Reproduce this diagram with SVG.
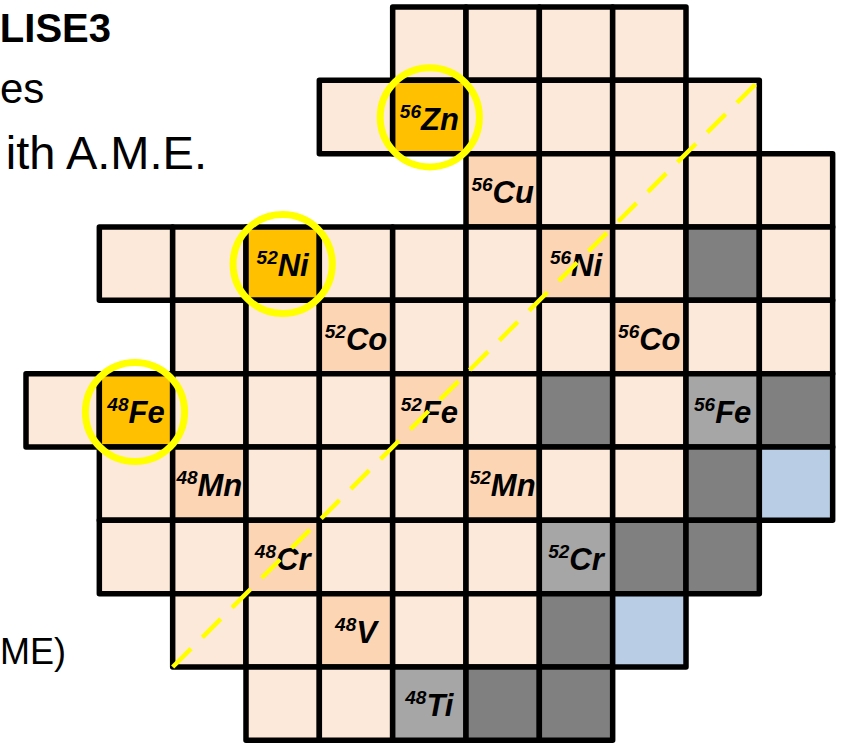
<svg xmlns="http://www.w3.org/2000/svg" width="846" height="744" viewBox="0 0 846 744">
<style>
rect.c{stroke:#000;stroke-width:5.5;stroke-linejoin:round}
.p{fill:#FDE9D9}.m{fill:#FCD5B4}.o{fill:#FFC000}.lg{fill:#A6A6A6}.dg{fill:#808080}.bl{fill:#B9CDE5}
.lb{font-family:"Liberation Sans",Arial,sans-serif;font-weight:bold;font-style:italic;font-size:31px;text-anchor:middle;fill:#000}
.sup{font-size:19px}
.side{font-family:"Liberation Sans",Arial,sans-serif;fill:#000}
.ring{fill:none;stroke:#FFFF00;stroke-width:7}
.nz{fill:none;stroke:#FFFF00;stroke-width:4.5;stroke-dasharray:26 16}
</style>
<rect width="846" height="744" fill="#fff"/>
<g id="side-text">
<text class="side" x="111" y="42" font-size="40" font-weight="bold" text-anchor="end">LISE3</text>
<text class="side" x="0" y="103" font-size="42">es</text>
<text class="side" x="207" y="169" font-size="47" text-anchor="end">ith A.M.E.</text>
<text class="side" x="0" y="664" font-size="36">ME)</text>
</g>
<g id="cells">
<g id="ga57"><rect class="c p" x="392.67" y="7" width="73.33" height="73.33"/></g>
<g id="ga58"><rect class="c p" x="466" y="7" width="73.33" height="73.33"/></g>
<g id="ga59"><rect class="c p" x="539.33" y="7" width="73.33" height="73.33"/></g>
<g id="ga60"><rect class="c p" x="612.67" y="7" width="73.33" height="73.33"/></g>
<g id="zn55"><rect class="c p" x="319.33" y="80.33" width="73.33" height="73.33"/></g>
<g id="zn56"><rect class="c o" x="392.67" y="80.33" width="73.33" height="73.33"/><text class="lb" x="429.33" y="129.5"><tspan class="sup" dy="-12">56</tspan><tspan dy="12">Zn</tspan></text></g>
<g id="zn57"><rect class="c p" x="466" y="80.33" width="73.33" height="73.33"/></g>
<g id="zn58"><rect class="c p" x="539.33" y="80.33" width="73.33" height="73.33"/></g>
<g id="zn59"><rect class="c p" x="612.67" y="80.33" width="73.33" height="73.33"/></g>
<g id="zn60"><rect class="c p" x="686" y="80.33" width="73.33" height="73.33"/></g>
<g id="cu56"><rect class="c m" x="466" y="153.67" width="73.33" height="73.33"/><text class="lb" x="502.67" y="202.8"><tspan class="sup" dy="-12">56</tspan><tspan dy="12">Cu</tspan></text></g>
<g id="cu57"><rect class="c p" x="539.33" y="153.67" width="73.33" height="73.33"/></g>
<g id="cu58"><rect class="c p" x="612.67" y="153.67" width="73.33" height="73.33"/></g>
<g id="cu59"><rect class="c p" x="686" y="153.67" width="73.33" height="73.33"/></g>
<g id="cu60"><rect class="c p" x="759.33" y="153.67" width="73.33" height="73.33"/></g>
<g id="ni50"><rect class="c p" x="99.33" y="227" width="73.33" height="73.33"/></g>
<g id="ni51"><rect class="c p" x="172.67" y="227" width="73.33" height="73.33"/></g>
<g id="ni52"><rect class="c o" x="246" y="227" width="73.33" height="73.33"/><text class="lb" x="282.67" y="276.2"><tspan class="sup" dy="-12">52</tspan><tspan dy="12">Ni</tspan></text></g>
<g id="ni53"><rect class="c p" x="319.33" y="227" width="73.33" height="73.33"/></g>
<g id="ni54"><rect class="c p" x="392.67" y="227" width="73.33" height="73.33"/></g>
<g id="ni55"><rect class="c p" x="466" y="227" width="73.33" height="73.33"/></g>
<g id="ni56"><rect class="c m" x="539.33" y="227" width="73.33" height="73.33"/><text class="lb" x="576" y="276.2"><tspan class="sup" dy="-12">56</tspan><tspan dy="12">Ni</tspan></text></g>
<g id="ni57"><rect class="c p" x="612.67" y="227" width="73.33" height="73.33"/></g>
<g id="ni58"><rect class="c dg" x="686" y="227" width="73.33" height="73.33"/></g>
<g id="ni59"><rect class="c p" x="759.33" y="227" width="73.33" height="73.33"/></g>
<g id="co50"><rect class="c p" x="172.67" y="300.33" width="73.33" height="73.33"/></g>
<g id="co51"><rect class="c p" x="246" y="300.33" width="73.33" height="73.33"/></g>
<g id="co52"><rect class="c m" x="319.33" y="300.33" width="73.33" height="73.33"/><text class="lb" x="356" y="349.5"><tspan class="sup" dy="-12">52</tspan><tspan dy="12">Co</tspan></text></g>
<g id="co53"><rect class="c p" x="392.67" y="300.33" width="73.33" height="73.33"/></g>
<g id="co54"><rect class="c p" x="466" y="300.33" width="73.33" height="73.33"/></g>
<g id="co55"><rect class="c p" x="539.33" y="300.33" width="73.33" height="73.33"/></g>
<g id="co56"><rect class="c m" x="612.67" y="300.33" width="73.33" height="73.33"/><text class="lb" x="649.33" y="349.5"><tspan class="sup" dy="-12">56</tspan><tspan dy="12">Co</tspan></text></g>
<g id="co57"><rect class="c p" x="686" y="300.33" width="73.33" height="73.33"/></g>
<g id="co58"><rect class="c p" x="759.33" y="300.33" width="73.33" height="73.33"/></g>
<g id="fe47"><rect class="c p" x="26" y="373.67" width="73.33" height="73.33"/></g>
<g id="fe48"><rect class="c o" x="99.33" y="373.67" width="73.33" height="73.33"/><text class="lb" x="136" y="422.8"><tspan class="sup" dy="-12">48</tspan><tspan dy="12">Fe</tspan></text></g>
<g id="fe49"><rect class="c p" x="172.67" y="373.67" width="73.33" height="73.33"/></g>
<g id="fe50"><rect class="c p" x="246" y="373.67" width="73.33" height="73.33"/></g>
<g id="fe51"><rect class="c p" x="319.33" y="373.67" width="73.33" height="73.33"/></g>
<g id="fe52"><rect class="c m" x="392.67" y="373.67" width="73.33" height="73.33"/><text class="lb" x="429.33" y="422.8"><tspan class="sup" dy="-12">52</tspan><tspan dy="12">Fe</tspan></text></g>
<g id="fe53"><rect class="c p" x="466" y="373.67" width="73.33" height="73.33"/></g>
<g id="fe54"><rect class="c dg" x="539.33" y="373.67" width="73.33" height="73.33"/></g>
<g id="fe55"><rect class="c p" x="612.67" y="373.67" width="73.33" height="73.33"/></g>
<g id="fe56"><rect class="c lg" x="686" y="373.67" width="73.33" height="73.33"/><text class="lb" x="722.67" y="422.8"><tspan class="sup" dy="-12">56</tspan><tspan dy="12">Fe</tspan></text></g>
<g id="fe57"><rect class="c dg" x="759.33" y="373.67" width="73.33" height="73.33"/></g>
<g id="mn47"><rect class="c p" x="99.33" y="447" width="73.33" height="73.33"/></g>
<g id="mn48"><rect class="c m" x="172.67" y="447" width="73.33" height="73.33"/><text class="lb" x="209.33" y="496.2"><tspan class="sup" dy="-12">48</tspan><tspan dy="12">Mn</tspan></text></g>
<g id="mn49"><rect class="c p" x="246" y="447" width="73.33" height="73.33"/></g>
<g id="mn50"><rect class="c p" x="319.33" y="447" width="73.33" height="73.33"/></g>
<g id="mn51"><rect class="c p" x="392.67" y="447" width="73.33" height="73.33"/></g>
<g id="mn52"><rect class="c m" x="466" y="447" width="73.33" height="73.33"/><text class="lb" x="502.67" y="496.2"><tspan class="sup" dy="-12">52</tspan><tspan dy="12">Mn</tspan></text></g>
<g id="mn53"><rect class="c p" x="539.33" y="447" width="73.33" height="73.33"/></g>
<g id="mn54"><rect class="c p" x="612.67" y="447" width="73.33" height="73.33"/></g>
<g id="mn55"><rect class="c dg" x="686" y="447" width="73.33" height="73.33"/></g>
<g id="mn56"><rect class="c bl" x="759.33" y="447" width="73.33" height="73.33"/></g>
<g id="cr46"><rect class="c p" x="99.33" y="520.33" width="73.33" height="73.33"/></g>
<g id="cr47"><rect class="c p" x="172.67" y="520.33" width="73.33" height="73.33"/></g>
<g id="cr48"><rect class="c m" x="246" y="520.33" width="73.33" height="73.33"/><text class="lb" x="282.67" y="569.5"><tspan class="sup" dy="-12">48</tspan><tspan dy="12">Cr</tspan></text></g>
<g id="cr49"><rect class="c p" x="319.33" y="520.33" width="73.33" height="73.33"/></g>
<g id="cr50"><rect class="c p" x="392.67" y="520.33" width="73.33" height="73.33"/></g>
<g id="cr51"><rect class="c p" x="466" y="520.33" width="73.33" height="73.33"/></g>
<g id="cr52"><rect class="c lg" x="539.33" y="520.33" width="73.33" height="73.33"/><text class="lb" x="576" y="569.5"><tspan class="sup" dy="-12">52</tspan><tspan dy="12">Cr</tspan></text></g>
<g id="cr53"><rect class="c dg" x="612.67" y="520.33" width="73.33" height="73.33"/></g>
<g id="cr54"><rect class="c dg" x="686" y="520.33" width="73.33" height="73.33"/></g>
<g id="v46"><rect class="c p" x="172.67" y="593.67" width="73.33" height="73.33"/></g>
<g id="v47"><rect class="c p" x="246" y="593.67" width="73.33" height="73.33"/></g>
<g id="v48"><rect class="c m" x="319.33" y="593.67" width="73.33" height="73.33"/><text class="lb" x="356" y="642.8"><tspan class="sup" dy="-12">48</tspan><tspan dy="12">V</tspan></text></g>
<g id="v49"><rect class="c p" x="392.67" y="593.67" width="73.33" height="73.33"/></g>
<g id="v50"><rect class="c p" x="466" y="593.67" width="73.33" height="73.33"/></g>
<g id="v51"><rect class="c dg" x="539.33" y="593.67" width="73.33" height="73.33"/></g>
<g id="v52"><rect class="c bl" x="612.67" y="593.67" width="73.33" height="73.33"/></g>
<g id="ti46"><rect class="c p" x="246" y="667" width="73.33" height="73.33"/></g>
<g id="ti47"><rect class="c p" x="319.33" y="667" width="73.33" height="73.33"/></g>
<g id="ti48"><rect class="c lg" x="392.67" y="667" width="73.33" height="73.33"/><text class="lb" x="429.33" y="716.2"><tspan class="sup" dy="-12">48</tspan><tspan dy="12">Ti</tspan></text></g>
<g id="ti49"><rect class="c dg" x="466" y="667" width="73.33" height="73.33"/></g>
<g id="ti50"><rect class="c dg" x="539.33" y="667" width="73.33" height="73.33"/></g>
</g>
<g id="connectors">
<line class="nz" x1="172.67" y1="667" x2="759.33" y2="80.33"/>
</g>
<g id="highlights">
<circle class="ring" cx="429.8" cy="117.3" r="49.6"/>
<circle class="ring" cx="282.7" cy="264" r="49.6"/>
<circle class="ring" cx="135" cy="412" r="49.6"/>
</g>
</svg>
